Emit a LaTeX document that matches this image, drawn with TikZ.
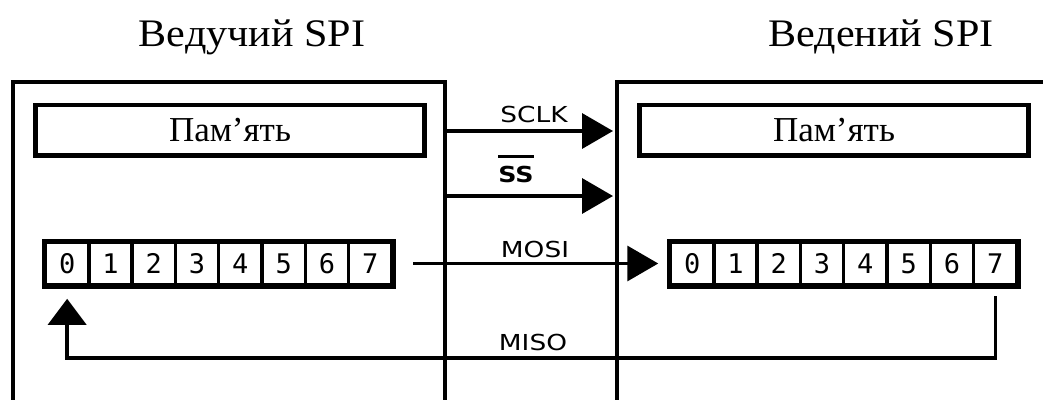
\documentclass[tikz,border=0pt]{standalone}
\usepackage{fontspec}
\setmainfont{Liberation Serif}
\newfontfamily\lblfont{DejaVu Sans}
\newfontfamily\digfont{DejaVu Sans Mono}
\usetikzlibrary{arrows.meta}
\begin{document}
\begin{tikzpicture}[x=1pt,y=-1pt,
  frame/.style={line width=3.5pt},
  membox/.style={draw,line width=4.5pt,minimum width=389pt,minimum height=50.5pt,inner sep=0pt,font=\fontsize{35}{38}\selectfont},
  cell/.style={draw,line width=3.5pt,minimum width=43.3pt,minimum height=42pt,inner sep=0pt,font=\digfont\fontsize{27}{29}\selectfont},
  regframe/.style={line width=4.5pt},
  sig/.style={line width=3.5pt,-{Triangle[length=31pt,width=35pt]}},
  miso/.style={line width=3.5pt,line join=miter,-{Triangle[length=26pt,width=38pt]}},
  lbl/.style={font=\lblfont\fontsize{22}{24}\selectfont,anchor=base,inner sep=0pt},
  title/.style={font=\fontsize{39}{42}\selectfont,anchor=base,inner sep=0pt}]
\useasboundingbox (0,0) rectangle (1043,399);
\fill[white] (0,0) rectangle (1043,399);
% titles
\node[title] (tL) at (252,46) {\scalebox{1.08}[1]{Ведучий SPI}};
\node[title] (tR) at (881,46) {\scalebox{1.08}[1]{Ведений SPI}};
% device frames
\draw[frame] (13,401) -- (13,82) -- (445,82) -- (445,401);
\draw[frame] (617,401) -- (617,82) -- (1046,82);
% memory
\node[membox] (memL) at (230,130) {Пам'ять};
\node[membox] (memR) at (834,130) {Пам'ять};
% registers
\foreach \i in {0,...,7}{
  \node[cell] (L\i) at ({67.15+43.3*\i},263.5) {\i};
  \node[cell] (R\i) at ({692.15+43.3*\i},263.5) {\i};
}
\draw[regframe] (L0.north west) rectangle (L7.south east);
\draw[regframe] (R0.north west) rectangle (R7.south east);
% signals
\coordinate (sclkA) at (447,131);
\coordinate (sclkB) at (613,131);
\coordinate (ssA) at (447,196);
\coordinate (ssB) at (613,196);
\coordinate (mosiA) at (413,263.5);
\coordinate (misoC) at (67.15,358);
\draw[sig] (sclkA) -- (sclkB);
\draw[sig] (ssA) -- (ssB);
\draw[sig] (mosiA) -- ([xshift=-10.5pt]R0.west);
\draw[miso] ([yshift=-10pt]R7.south) |- (misoC) -- ([yshift=-12.5pt]L0.south);
% labels
\node[lbl] (lsclk) at (534,122) {\scalebox{1.2}[1]{SCLK}};
\node[lbl] (lss) at (516,182) {\scalebox{1.15}[1]{\bfseries SS}};
\draw[line width=3pt] ([yshift=9pt]lss.north west) -- ([yshift=9pt]lss.north east);
\node[lbl] (lmosi) at (535,257) {\scalebox{1.2}[1]{MOSI}};
\node[lbl] (lmiso) at (533,350) {\scalebox{1.2}[1]{MISO}};
\end{tikzpicture}
\end{document}
